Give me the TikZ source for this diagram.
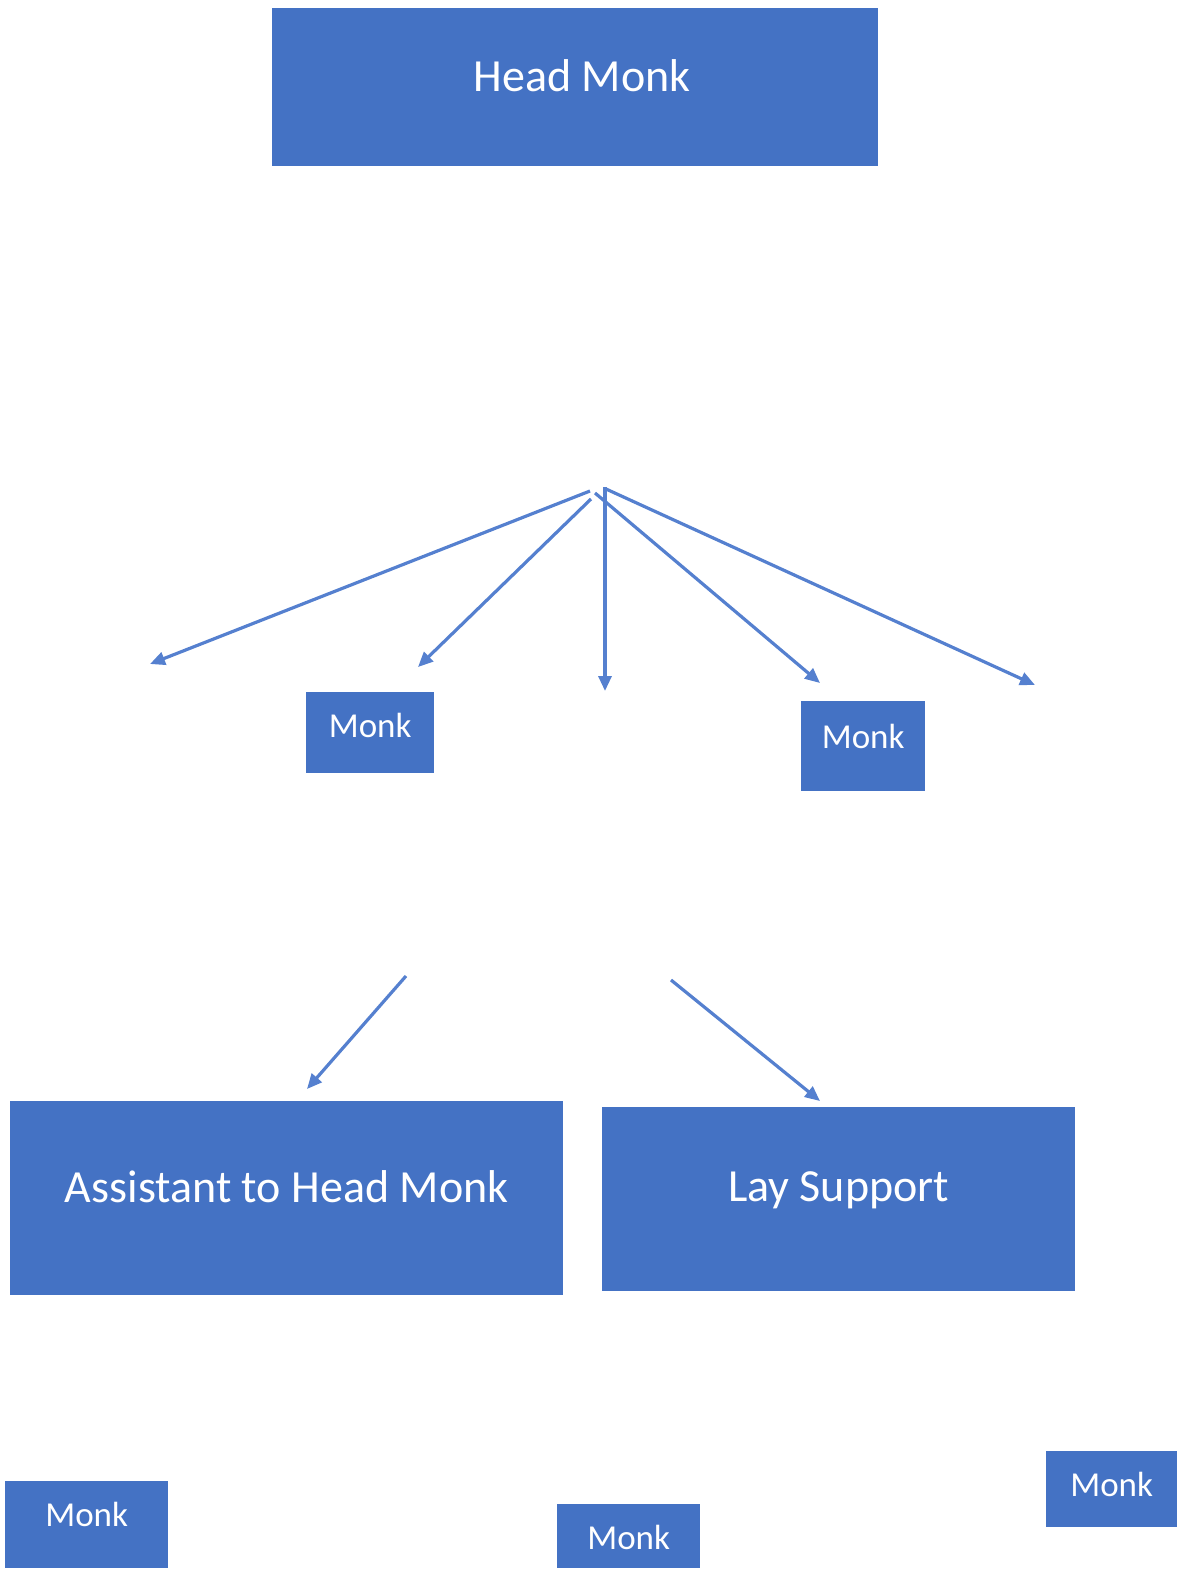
\documentclass[tikz,border=0pt]{standalone}
\usepackage{fontspec}
\setmainfont{Carlito}
\usetikzlibrary{arrows.meta}
\definecolor{boxblue}{HTML}{4472C4}
\definecolor{arrblue}{HTML}{5580CF}
\tikzset{
  box/.style={fill=boxblue, inner sep=0pt, text=white, align=center, anchor=north west},
  bigtxt/.style={font=\fontsize{46}{50}\selectfont},
  smalltxt/.style={font=\fontsize{35}{40}\selectfont},
  arr/.style={draw=arrblue, line width=3.2pt, -{Triangle[length=15pt,width=13pt]}}
}
\begin{document}
\begin{tikzpicture}[x=1pt,y=-1pt]
\useasboundingbox (0,0) rectangle (1177,1570);
\node[box,bigtxt,minimum width=606pt,text height=83pt,text depth=75pt] (head) at (272,8) {\hspace*{14pt}Head Monk};
\node[box,smalltxt,minimum width=128pt,text height=45pt,text depth=36pt] (monkA) at (306,692) {Monk};
\node[box,smalltxt,minimum width=124pt,text height=47pt,text depth=43pt] (monkB) at (801,701) {Monk};
\node[box,bigtxt,minimum width=553pt,text height=101pt,text depth=93pt] (asst) at (10,1101) {Assistant to Head Monk};
\node[box,bigtxt,minimum width=473pt,text height=94pt,text depth=90pt] (lay) at (602,1107) {Lay Support};
\node[box,smalltxt,minimum width=163pt,text height=45pt,text depth=42pt] (monkC) at (5,1481) {Monk};
\node[box,smalltxt,minimum width=143pt,text height=45pt,text depth=19pt] (monkD) at (557,1504) {Monk};
\node[box,smalltxt,minimum width=131pt,text height=45pt,text depth=31pt] (monkE) at (1046,1451) {Monk};
% arrow end points
\coordinate (s1) at (590,491); \coordinate (e1) at (150,664);
\coordinate (s2) at (591,499); \coordinate (e2) at (418,667);
\coordinate (s3) at (605,487); \coordinate (e3) at (605,691);
\coordinate (s4) at (595,493); \coordinate (e4) at (820,683);
\coordinate (s5) at (606,489); \coordinate (e5) at (1035,685);
\coordinate (s6) at (406,976); \coordinate (e6) at (307,1089);
\coordinate (s7) at (671,980); \coordinate (e7) at (820,1101);
\foreach \i in {1,...,7} { \draw[arr] (s\i) -- (e\i); }
\end{tikzpicture}
\end{document}
